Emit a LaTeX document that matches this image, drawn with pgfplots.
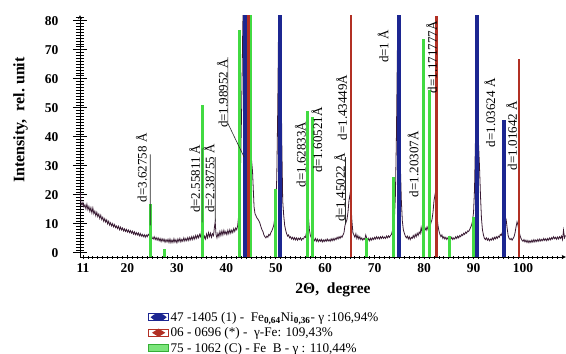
\documentclass[border=0pt]{standalone}
\usepackage{pgfplots}
\pgfplotsset{compat=1.18}
\usepackage{fontspec}
\setmainfont{Liberation Serif}
\definecolor{fenicol}{RGB}{28,38,145}
\definecolor{fecol}{RGB}{178,48,36}
\definecolor{fbcol}{RGB}{66,218,66}
\definecolor{curvecol}{RGB}{58,28,52}
\definecolor{leadcol}{RGB}{40,40,40}
\pgfplotsset{
  common/.style={
    at={(80pt,97pt)}, anchor=south west,
    scale only axis, width=486pt, height=242pt,
    xmin=10.4, xmax=108.7, ymin=-1.4, ymax=82,
    axis line style={-, black, line width=0.9pt},
    tick align=outside,
    /pgf/number format/assume math mode=true,
    ticklabel style={font=\fontsize{13.5}{14}\selectfont\bfseries},
  }
}
\begin{document}
\begin{tikzpicture}
% x axis
\begin{axis}[common,
  axis x line=bottom, axis y line=none,
  xtick={11,20,30,...,100},
  minor xtick={12,13,...,108},
  tickwidth=4.5pt, subtickwidth=3pt,
  xtick style={black,line width=0.8pt},
  xticklabel style={yshift=-0.5pt},
  xlabel={2Θ,\ \ degree},
  xlabel style={at={(axis description cs:0.5206,-0.136)}, anchor=center, font=\fontsize{15.5}{16}\selectfont\bfseries},
]
\end{axis}
% y axis and data
\begin{axis}[common,
  axis x line=none, axis y line=left,
  ytick={0,10,...,80},
  minor ytick={1,2,...,81},
  tickwidth=14pt, subtickwidth=8pt,
  ytick style={black,line width=0.9pt},
  yticklabel style={xshift=-11pt},
  ylabel={Intensity,\ \ rel.\ unit},
  ylabel style={at={(axis description cs:-0.10,0.566)}, anchor=south, font=\fontsize{16}{16}\selectfont\bfseries},
  unbounded coords=jump,
  legend style={at={(axis description cs:0.14,-0.22)}, anchor=north west, draw=none, fill=none,
    font=\fontsize{13.2}{13.2}\selectfont, row sep=1.8pt, inner sep=0pt, nodes={inner sep=1.5pt}},
  legend cell align=left,
  reverse legend,
]
% measured diffraction curve
\addplot[curvecol, line width=0.8pt, forget plot] coordinates {
(10.45,21) (10.6,17) (10.8,16.5) (11.0,17.5) (11.2,15.8) (11.4,16.6) (11.6,15.2) (11.8,16.8) (12.0,14.9) (12.2,16.0)
(12.4,14.3) (12.6,15.6) (12.8,13.8) (13.0,15.5) (13.2,13.5) (13.4,14.4) (13.6,12.8) (13.8,14.0) (14.0,12.5) (14.2,13.4)
(14.4,11.9) (14.6,13.0) (14.8,11.5) (15.0,12.3) (15.2,10.9) (15.4,11.8) (15.6,10.6) (15.8,11.4) (16.0,10.0) (16.2,10.9)
(16.4,9.6) (16.6,10.4) (16.8,9.3) (17.0,10.1) (17.2,9.0) (17.4,9.8) (17.6,8.7) (17.8,9.3) (18.0,8.4) (18.2,9.2)
(18.4,8.0) (18.6,8.9) (18.8,7.9) (19.0,8.6) (19.2,7.6) (19.4,8.3) (19.6,7.4) (19.8,8.1) (20.0,7.2) (20.2,7.9)
(20.4,7.0) (20.6,7.7) (20.8,6.8) (21.0,7.5) (21.2,6.5) (21.4,7.3) (21.6,6.3) (21.8,7.0) (22.0,6.2) (22.2,6.9)
(22.4,5.9) (22.6,6.7) (22.8,5.8) (23.0,6.4) (23.2,5.6) (23.4,6.3) (23.6,5.4) (23.8,6.2) (24.0,5.6) (24.2,6.4)
(24.4,6.0) (24.6,9.5) (24.8,6.2) (25.0,5.2) (25.2,4.8) (25.4,5.6) (25.6,4.6) (25.8,5.3) (26.0,4.4) (26.2,5.2)
(26.4,4.2) (26.6,5.0) (26.8,3.9) (27.0,4.9) (27.2,4.0) (27.4,4.8) (27.6,3.7) (27.8,4.6) (28.0,3.8) (28.2,4.7)
(28.4,3.6) (28.6,4.8) (28.8,3.5) (29.0,4.5) (29.2,3.6) (29.4,4.9) (29.6,3.7) (29.8,4.6) (30.0,3.5) (30.2,4.8)
(30.4,3.9) (30.6,5.0) (30.8,3.8) (31.0,4.7) (31.2,4.0) (31.4,5.2) (31.6,4.1) (31.8,5.0) (32.0,4.2) (32.2,5.3)
(32.4,4.3) (32.6,5.4) (32.8,4.5) (33.0,5.6) (33.2,4.6) (33.4,5.7) (33.6,4.8) (33.8,6.0) (34.0,5.0) (34.2,6.1)
(34.4,5.2) (34.6,6.4) (34.8,5.6) (35.0,8.0) (35.1,10.5) (35.25,6.0) (35.4,4.6) (35.6,5.8) (35.8,4.8) (36.0,6.5)
(36.2,5.2) (36.4,7.0) (36.6,5.6) (36.8,6.8) (37.0,5.4) (37.2,6.6) (37.4,6.0) (37.6,9.0) (37.75,10.8) (37.9,6.5)
(38.1,5.2) (38.3,6.8) (38.5,5.6) (38.7,7.4) (38.9,6.0) (39.1,7.6) (39.3,6.2) (39.5,7.8) (39.7,6.5) (39.9,7.4)
(40.1,6.3) (40.3,7.8) (40.5,6.6) (40.7,8.0) (40.9,6.8) (41.1,7.9) (41.3,7.0) (41.5,8.4) (41.7,7.4) (41.9,8.6)
(42.1,8.0) (42.3,9.5) (42.5,13) (42.7,20) (42.9,32) (43.1,50) (43.3,75) (43.5,95) (43.7,100) (43.9,90)
(44.1,70) (44.3,55) (44.5,50) (44.7,45) (44.9,38) (45.1,32) (45.3,28) (45.45,22) (45.6,16) (45.8,13.5)
(46.0,12.8) (46.2,12.0) (46.4,11.6) (46.6,11.0) (46.8,10.2) (47.0,9.0) (47.2,8.0) (47.4,7.4) (47.6,6.2) (47.8,5.6)
(48.0,5.2) (48.2,5.8) (48.4,5.4) (48.6,6.4) (48.8,6.0) (49.0,7.0) (49.2,7.6) (49.4,8.5) (49.6,9.6) (49.8,12)
(50.0,16) (50.2,26) (50.4,50) (50.6,85) (50.8,100) (51.0,80) (51.2,40) (51.4,18) (51.6,13) (51.8,9.5)
(52.0,7.8) (52.2,6.6) (52.4,5.8) (52.6,6.2) (52.8,5.2) (53.0,5.6) (53.2,4.8) (53.4,5.4) (53.6,4.6) (53.8,5.3)
(54.0,4.5) (54.2,5.2) (54.4,4.4) (54.6,5.1) (54.8,4.6) (55.0,5.2) (55.2,4.4) (55.4,5.0) (55.6,4.8) (55.8,5.6)
(56.0,5.4) (56.2,7.0) (56.4,10.5) (56.6,12.4) (56.8,8.0) (57.0,6.0) (57.2,5.2) (57.4,6.6) (57.6,4.8) (57.8,4.2)
(58.0,5.0) (58.2,4.0) (58.4,4.8) (58.6,3.9) (58.8,4.6) (59.0,4.0) (59.2,4.7) (59.4,3.8) (59.6,4.5) (59.8,3.9)
(60.0,4.6) (60.2,4.0) (60.4,4.8) (60.6,4.1) (60.8,4.6) (61.0,4.0) (61.2,4.9) (61.4,4.2) (61.6,5.0) (61.8,4.3)
(62.0,5.1) (62.2,4.6) (62.4,5.4) (62.6,4.8) (62.8,5.6) (63.0,5.0) (63.2,5.8) (63.4,5.4) (63.6,6.2) (63.8,7.0)
(64.0,9.5) (64.2,10.5) (64.4,11.5) (64.6,14) (64.8,18) (65.0,20) (65.2,17) (65.4,11) (65.6,7.0) (65.8,6.2)
(66.0,5.4) (66.2,6.6) (66.4,5.0) (66.6,6.0) (66.8,4.8) (67.0,5.6) (67.2,4.6) (67.4,5.2) (67.6,4.4) (67.8,5.0)
(68.0,4.7) (68.2,6.2) (68.4,5.0) (68.6,4.2) (68.8,5.0) (69.0,4.2) (69.2,5.1) (69.4,4.4) (69.6,5.2) (69.8,4.6)
(70.0,5.4) (70.2,4.8) (70.4,5.6) (70.6,4.9) (70.8,5.5) (71.0,4.8) (71.2,5.6) (71.4,5.0) (71.6,5.7) (71.8,5.0)
(72.0,5.5) (72.2,5.0) (72.4,5.8) (72.6,5.2) (72.8,5.9) (73.0,5.4) (73.2,6.0) (73.4,6.4) (73.6,7.8) (73.8,9)
(74.0,12) (74.2,20) (74.4,40) (74.6,70) (74.8,90) (75.0,60) (75.2,30) (75.4,18) (75.6,11) (75.8,8.0)
(76.0,6.8) (76.2,5.8) (76.4,5.2) (76.6,5.8) (76.8,4.8) (77.0,5.6) (77.2,4.6) (77.4,5.4) (77.6,5.0) (77.8,6.0)
(78.0,5.2) (78.2,6.4) (78.4,5.6) (78.6,6.8) (78.8,6.0) (79.0,7.2) (79.2,6.6) (79.4,8.8) (79.6,7.0) (79.8,8.0)
(80.0,7.4) (80.2,8.6) (80.4,7.8) (80.6,9.0) (80.8,8.0) (81.0,9.6) (81.2,9.0) (81.4,10.5) (81.6,11.5) (81.8,14)
(82.0,18) (82.2,20) (82.4,18) (82.6,13) (82.8,9.5) (83.0,7.6) (83.2,6.4) (83.4,5.6) (83.6,6.2) (83.8,5.0)
(84.0,5.6) (84.2,4.8) (84.4,5.4) (84.6,4.6) (84.8,5.2) (85.0,4.8) (85.2,5.6) (85.4,4.8) (85.6,5.4) (85.8,4.6)
(86.0,5.2) (86.2,4.8) (86.4,5.6) (86.6,5.0) (86.8,5.8) (87.0,5.2) (87.2,6.0) (87.4,5.6) (87.6,6.4) (87.8,6.0)
(88.0,6.8) (88.2,6.4) (88.4,7.2) (88.6,6.8) (88.8,7.6) (89.0,7.4) (89.2,8.0) (89.4,8.8) (89.6,9.6) (89.8,11)
(90.0,14) (90.2,22) (90.4,40) (90.6,60) (90.8,55) (91.0,38) (91.2,30) (91.4,20) (91.6,12) (91.8,8)
(92.0,6.2) (92.2,5.0) (92.4,4.6) (92.6,5.2) (92.8,4.4) (93.0,5.0) (93.2,4.2) (93.4,4.8) (93.6,4.4) (93.8,5.2)
(94.0,4.5) (94.2,5.4) (94.4,4.8) (94.6,5.6) (94.8,5.0) (95.0,5.8) (95.2,5.4) (95.4,6.4) (95.6,6.0) (95.8,7.0)
(96.0,8.0) (96.2,10.5) (96.4,12.4) (96.6,11.5) (96.8,8.5) (97.0,6.0) (97.2,5.0) (97.4,4.6) (97.6,5.0) (97.8,4.4)
(98.0,5.0) (98.2,5.6) (98.4,7.0) (98.6,9.0) (98.8,10.7) (99.0,9.5) (99.2,7.5) (99.4,6.0) (99.6,5.0) (99.8,4.4)
(100.0,4.0) (100.2,4.6) (100.4,3.8) (100.6,4.4) (100.8,3.6) (101.0,4.3) (101.2,3.5) (101.4,4.2) (101.6,3.6) (101.8,4.4)
(102.0,3.7) (102.2,4.6) (102.4,3.8) (102.6,4.5) (102.8,3.9) (103.0,4.7) (103.2,4.0) (103.4,4.8) (103.6,4.1) (103.8,4.7)
(104.0,4.2) (104.2,5.0) (104.4,4.3) (104.6,4.9) (104.8,4.2) (105.0,5.0) (105.2,4.4) (105.4,5.2) (105.6,4.5) (105.8,5.3)
(106.0,4.8) (106.2,5.6) (106.4,4.9) (106.6,5.4) (106.8,4.7) (107.0,5.5) (107.2,4.8) (107.4,5.6) (107.6,5.0) (107.8,5.8)
(108.0,4.6) (108.2,7.8) (108.4,5.2) (108.6,6.0)
};
% 75-1062 (C) Fe B  - green sticks
\addplot[fbcol, line width=3pt,
  legend image code/.code={\draw[fbcol!80!black, line width=0.8pt, fill=fbcol!70] (0pt,-3.5pt) rectangle (20pt,3.5pt);}]
coordinates {
(24.6,-1.4) (24.6,17) (24.6,nan)
(27.5,-1.4) (27.5,1.5) (27.5,nan)
(35.1,-1.4) (35.1,51) (35.1,nan)
(42.7,-1.4) (42.7,77) (42.7,nan)
(44.9,-1.4) (44.9,90) (44.9,nan)
(50.0,-1.4) (50.0,22) (50.0,nan)
(56.5,-1.4) (56.5,49) (56.5,nan)
(57.4,-1.4) (57.4,47) (57.4,nan)
(68.4,-1.4) (68.4,5) (68.4,nan)
(73.9,-1.4) (73.9,26) (73.9,nan)
(79.9,-1.4) (79.9,73.6) (79.9,nan)
(81.0,-1.4) (81.0,56) (81.0,nan)
(85.2,-1.4) (85.2,6) (85.2,nan)
(89.9,-1.4) (89.9,12.5)
};
\addlegendentry{75 - 1062 (C) - Fe\ \ B - γ : 110,44\%}
% 06-0696 gamma-Fe - red sticks
\addplot[fecol, line width=2.8pt,
  legend image code/.code={\draw[fecol, line width=0.8pt, fill=white] (0pt,-3.5pt) rectangle (20pt,3.5pt);
     \fill[fecol] (6pt,0pt) -- (10pt,2.5pt) -- (14pt,0pt) -- (10pt,-2.5pt) -- cycle;}]
coordinates {
(44.5,-1.4) (44.5,90) (44.5,nan)
(65.2,-1.4) (65.2,90) (65.2,nan)
(82.5,-1.4) (82.5,81.5) (82.5,nan)
(99.2,-1.4) (99.2,67)
};
\addlegendentry{06 - 0696 (*) -\ \ γ-Fe: 109,43\%}
% 47-1405 Fe0.64Ni0.36 - blue sticks
\addplot[fenicol, line width=3.8pt,
  legend image code/.code={\draw[fenicol, line width=0.8pt, fill=white] (0pt,-3.5pt) rectangle (20pt,3.5pt);
     \fill[fenicol] (10pt,0pt) ellipse (5pt and 1.6pt);}]
coordinates {
(43.7,-1.4) (43.7,90) (43.7,nan)
(50.85,-1.4) (50.85,90) (50.85,nan)
(74.85,-1.4) (74.85,90) (74.85,nan)
(90.7,-1.4) (90.7,90) (90.7,nan)
(96.1,-1.4) (96.1,45.8)
};
\addlegendentry{47 -1405 (1) -\ \ Fe\textsubscript{\textbf{0,64}}Ni\textsubscript{\textbf{0,36}}- γ :106,94\%}
% leader lines of the d-spacing labels
\addplot[leadcol, line width=0.6pt, forget plot] coordinates {
(24.6,9.5) (24.6,34) (24.6,nan)
(35.1,10.5) (35.1,36) (35.1,nan)
(37.75,10.8) (37.75,33) (37.75,nan)
(43.6,33) (40.3,44.7) (40.3,67.5) (40.3,nan)
(64.1,10) (64.1,33)
};
\begin{scope}[every node/.style={rotate=90, anchor=west, inner sep=0pt, font=\fontsize{13}{13}\selectfont}]
\node at (axis cs:22.8,17.4) {d=3.62758 Å};
\node at (axis cs:33.6,13.7) {d=2.55811 Å};
\node at (axis cs:36.5,13.7) {d=2.38755 Å};
\node at (axis cs:39.2,43) {d=1.98952 Å};
\node at (axis cs:55.0,22.6) {d=1.62833Å};
\node at (axis cs:58.3,27.5) {d=1.60521Å};
\node at (axis cs:62.9,10.6) {d=1.45022 Å};
\node at (axis cs:63.3,38.8) {d=1.43449Å};
\node at (axis cs:71.7,65.4) {d=1 Å};
\node at (axis cs:77.8,19.2) {d=1.20307Å};
\node at (axis cs:81.5,55) {d=1.171777Å};
\node at (axis cs:93.3,36.4) {d=1.03624 Å};
\node at (axis cs:97.7,28.5) {d=1.01642 Å};
\end{scope}
\end{axis}
\pgfresetboundingbox
\path (0pt,0pt) rectangle (566pt,354pt);
\end{tikzpicture}
\end{document}
